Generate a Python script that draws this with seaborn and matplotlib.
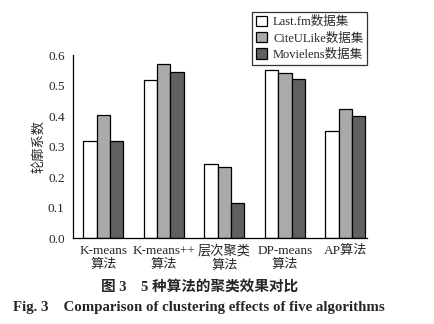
import matplotlib
matplotlib.use("Agg")
import matplotlib.pyplot as plt
from matplotlib.patches import Patch
import seaborn as sns
import pandas as pd

# Silhouette coefficients of five clustering algorithms on three datasets
algorithms = ["K-means\n算法", "K-means++\n算法", "层次聚类\n算法", "DP-means\n算法", "AP算法"]
datasets = ["Last.fm数据集", "CiteULike数据集", "Movielens数据集"]
lastfm = [0.32, 0.518, 0.242, 0.55, 0.352]
citeulike = [0.402, 0.571, 0.234, 0.540, 0.424]
movielens = [0.317, 0.546, 0.116, 0.520, 0.399]
colors = ["#ffffff", "#aaaaaa", "#606060"]

rows = []
for name, vals in zip(datasets, [lastfm, citeulike, movielens]):
    for alg, v in zip(algorithms, vals):
        rows.append({"算法": alg, "数据集": name, "值": v})
df = pd.DataFrame(rows)

sns.set_theme(style="white")
fam = ["Liberation Serif", "Noto Sans CJK SC"]
plt.rcParams["font.family"] = fam

fig = plt.figure(figsize=(4.35, 3.24), dpi=100)
ax = fig.add_axes([0.168, 0.265, 0.676, 0.565])

sns.barplot(data=df, x="算法", y="值", hue="数据集", palette=colors,
            width=0.66, gap=0, edgecolor="black", linewidth=0.9,
            saturation=1, legend=False, ax=ax, errorbar=None)

ax.set_xlim(-0.5, 4.36)
ax.set_ylim(0, 0.6)
ax.set_yticks([0.0, 0.1, 0.2, 0.3, 0.4, 0.5, 0.6])
ax.set_yticklabels([f"{t:.1f}" for t in ax.get_yticks()], fontsize=9.5, family=fam)
ax.set_xticks(range(len(algorithms)))
ax.set_xticklabels(algorithms, fontsize=9.5, family=fam, linespacing=1.25)
ax.tick_params(axis="y", direction="out", length=3, width=0.9, color="black", pad=3)
ax.tick_params(axis="x", length=0, pad=5)
ax.set_xlabel("")
ax.set_ylabel("轮廓系数", fontsize=9.5, family=fam, labelpad=2)
for s in ["top", "right"]:
    ax.spines[s].set_visible(False)
for s in ["left", "bottom"]:
    ax.spines[s].set_color("black")
    ax.spines[s].set_linewidth(0.9)

handles = [Patch(facecolor=c, edgecolor="black", linewidth=0.9) for c in colors]
leg = ax.legend(handles, datasets, loc="upper right", bbox_to_anchor=(1.0, 1.235),
                borderaxespad=0, frameon=True, fancybox=False,
                handlelength=0.9, handleheight=0.9,
                handletextpad=0.5, borderpad=0.3, labelspacing=0.3,
                prop={"family": fam, "size": 9})
leg.get_frame().set_edgecolor("black")
leg.get_frame().set_linewidth(0.9)

fig.text(0.458, 1 - 287 / 324, "图 3    5 种算法的聚类效果对比", ha="center", va="center",
         fontsize=10.5, fontweight="bold", family=fam)
fig.text(0.03, 1 - 308 / 324, "Fig. 3    Comparison of clustering effects of five algorithms",
         ha="left", va="center", fontsize=10.7, fontweight="bold", family=fam)

fig.savefig("out.png", dpi=100)
